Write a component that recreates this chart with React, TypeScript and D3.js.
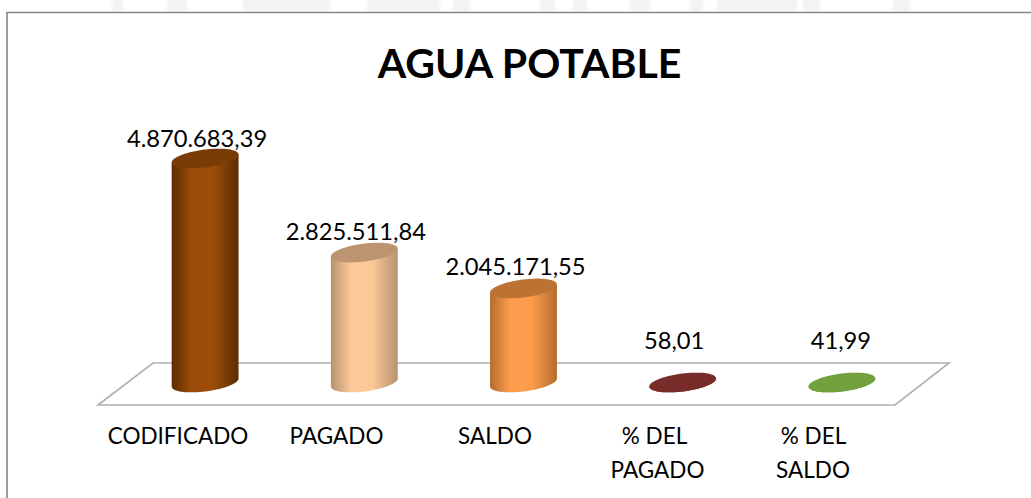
import React from "react";
import * as d3 from "d3";

const categories = ["CODIFICADO", "PAGADO", "SALDO", "% DEL PAGADO", "% DEL SALDO"];
const values = [4870683.39, 2825511.84, 2045171.55, 58.01, 41.99];
const valueLabels = ["4.870.683,39", "2.825.511,84", "2.045.171,55", "58,01", "41,99"];
const categoryLines = [["CODIFICADO"], ["PAGADO"], ["SALDO"], ["% DEL", "PAGADO"], ["% DEL", "SALDO"]];
const edgeColors = ["#5c2d00", "#b8926e", "#b46c2c", "#772c2a", "#71a03c"];
const midColors = ["#9c4c08", "#fcc898", "#fd9c4c", "#772c2a", "#71a03c"];
const topColors = ["#7a3c06", "#bd9470", "#bb7232", "#772c2a", "#71a03c"];
const watermarkSpans = [[112, 123], [167, 187], [243, 330], [367, 440], [453, 470], [540, 555], [573, 587], [630, 650], [690, 703], [717, 797], [803, 820], [893, 910]];

const FONT = "Lato, 'Open Sans', sans-serif";
const W = 1031, H = 498;
const x = d3.scaleBand<string>().domain(categories).range([125.5, 921.5]).paddingInner(0.58).paddingOuter(0.29);
const y = d3.scaleLinear().domain([0, 4870683.39]).range([382.5, 158.5]);

const valueDx = [-8, -8.5, -8, -8.5, -1];
const valueDy = [-11.5, -13, -13, 0.5, 0.5];
const categoryCx = [[178], [336.5], [495], [654.5, 657.5], [813.5, 813]];

const RY = 9, SKEW = 4;
const ts = d3.range(0, 2 * Math.PI + 0.001, Math.PI / 40);
const ring = (cx: number, cy: number, rx: number) => (t: number): [number, number] => [
  cx + rx * Math.cos(t),
  cy + RY * Math.sin(t) - SKEW * Math.cos(t),
];
const line = d3.line();

export default function App() {
  const rx = x.bandwidth() / 2;
  return (
    <svg width={W} height={H} style={{ position: "fixed", left: 0, top: 0, background: "#fff" }}>
      <defs>
        {categories.map((c, i) => (
          <linearGradient id={`g${i}`} key={c} x1="0" x2="1" y1="0" y2="0">
            <stop offset="0" stopColor={edgeColors[i]} />
            <stop offset="0.3" stopColor={midColors[i]} />
            <stop offset="0.62" stopColor={midColors[i]} />
            <stop offset="1" stopColor={edgeColors[i]} />
          </linearGradient>
        ))}
        <filter id="soft"><feGaussianBlur stdDeviation="1.5" /></filter>
      </defs>
      <g filter="url(#soft)">
        {watermarkSpans.map(([a, b]) => (
          <rect key={a} x={a} y={-4} width={b - a} height={16} fill="#f3f3f3" />
        ))}
      </g>
      <rect x={7} y={12.5} width={1024} height={486} fill="#fff" />
      <path d="M7,498 L7,12.5 L1031,12.5" fill="none" stroke="#868686" strokeWidth={1.6} />
      <path d="M98,405 L153,363 L949,363 L895,405 Z" fill="#fff" stroke="#b0b0b0" strokeWidth={1.6} />
      {categories.map((c, i) => {
        const cx = x(c)! + rx;
        const yTop = y(values[i]);
        const yBase = y(0);
        const top = ring(cx, yTop, rx);
        const base = ring(cx, yBase, rx);
        const lower = ts.filter((t) => t <= Math.PI).map(base);
        const body = [top(0), ...lower, top(Math.PI)] as [number, number][];
        return (
          <g key={c}>
            <path d={line(body)! + "Z"} fill={`url(#g${i})`} />
            <path d={line(ts.map(top))! + "Z"} fill={topColors[i]} />
          </g>
        );
      })}
      <text x={529.5} y={78} textAnchor="middle" fontFamily={FONT} fontWeight={700} fontSize={41} fill="#000">
        AGUA POTABLE
      </text>
      {valueLabels.map((l, i) => (
        <text key={l} x={x(categories[i])! + rx + valueDx[i]} y={y(values[i]) + valueDy[i]} dy={i > 2 ? -34 : 0} textAnchor="middle" fontFamily={FONT} fontSize={23.7} fill="#000">
          {l}
        </text>
      ))}
      {categoryLines.map((ls, i) =>
        ls.map((s, j) => (
          <text key={s + i} x={categoryCx[i][j]} y={444 + j * 34} textAnchor="middle" fontFamily={FONT} fontSize={22.5} fill="#000">
            {s}
          </text>
        ))
      )}
    </svg>
  );
}
